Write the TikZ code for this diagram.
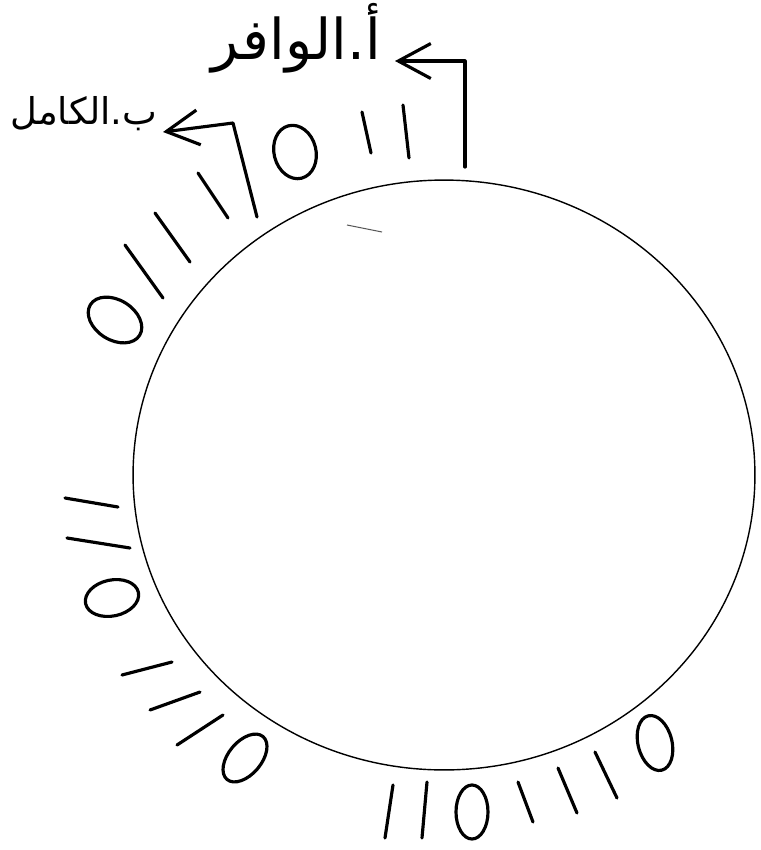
\documentclass[tikz,border=0pt]{standalone}
\usepackage{fontspec}
\newfontfamily\arabicfont[Script=Arabic]{DejaVu Sans}
\TeXXeTstate=1
\usetikzlibrary{arrows.meta}

\begin{document}
\begin{tikzpicture}[x=0.02cm, y=-0.02cm, >={Straight Barb[length=6.5mm,width=7mm]},
  pen/.style={line width=1.8pt, line cap=round, line join=round},
  ring/.style={line width=0.8pt},
  bahr/.style={font=\arabicfont\fontsize{32}{36}\selectfont, inner ysep=0pt, inner xsep=8pt}]
\useasboundingbox (0,0) rectangle (761,850);

% the circle
\draw[ring] (444,475) ellipse [x radius=6.22cm, y radius=5.9cm];
\draw[line width=0.6pt, gray!70!black] (347,225) -- (382,232);

% labels and their brackets
\node[bahr, anchor=east] (wafir) at (395,38) {\beginR أ.الوافر\endR};
\node[bahr, anchor=east, inner xsep=3pt, font=\arabicfont\fontsize{21}{26}\selectfont] (kamil) at (163,114) {\beginR ب.الكامل\endR};
\coordinate (wafirfoot) at (465,167);
\coordinate (kamilfoot) at (257,217);
\coordinate (kamilbend) at (233,123);
\draw[pen, ->] (wafirfoot) |- ([yshift=-0.46cm]wafir.east);
\draw[pen, ->] (kamilfoot) -- (kamilbend) -- ([yshift=-0.36cm]kamil.east);

% top marks
\draw[pen] (403,105) -- (409,158);
\draw[pen] (362,112) -- (371,153);
\draw[pen, rotate around={14:(295,152)}] (295,152) ellipse [x radius=0.42cm, y radius=0.54cm];
\draw[pen] (198,173) -- (228,218);
\draw[pen] (155,213) -- (190,262);
\draw[pen] (125,245) -- (163,298);
\draw[pen, rotate around={-32:(115,320)}] (115,320) ellipse [x radius=0.58cm, y radius=0.4cm];

% left marks
\draw[pen] (65,498) -- (118,507);
\draw[pen] (67,538) -- (130,548);
\draw[pen, rotate around={12:(112,598)}] (112,598) ellipse [x radius=0.54cm, y radius=0.36cm];
\draw[pen] (122,675) -- (172,662);
\draw[pen] (150,710) -- (200,692);
\draw[pen] (177,745) -- (223,715);
\draw[pen, rotate around={50:(245,758)}] (245,758) ellipse [x radius=0.56cm, y radius=0.33cm];

% bottom marks
\draw[pen] (393,785) -- (385,838);
\draw[pen] (427,782) -- (422,838);
\draw[pen] (472,812) ellipse [x radius=0.32cm, y radius=0.54cm];
\draw[pen] (518,782) -- (533,822);
\draw[pen] (558,768) -- (577,813);
\draw[pen] (595,752) -- (617,798);
\draw[pen, rotate around={14:(655,743)}] (655,743) ellipse [x radius=0.34cm, y radius=0.56cm];
\end{tikzpicture}
\end{document}
